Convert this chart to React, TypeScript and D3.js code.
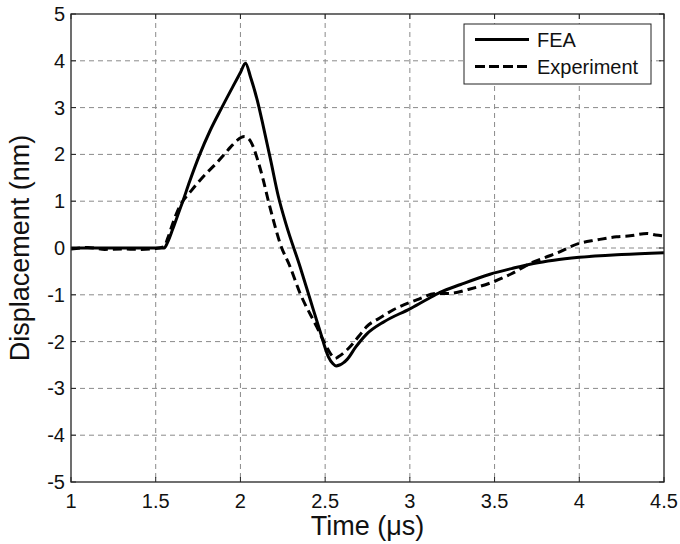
import React from 'react';
import * as d3 from 'd3';

// time in microseconds, displacement in nm
const feaTime = [1.0, 1.2, 1.4, 1.5, 1.55, 1.57, 1.6, 1.63, 1.66, 1.7, 1.76, 1.82, 1.89, 1.96, 2.0, 2.03, 2.06, 2.1, 2.135, 2.18, 2.224, 2.27, 2.352, 2.41, 2.47, 2.52, 2.545, 2.565, 2.585, 2.605, 2.63, 2.68, 2.745, 2.85, 3.0, 3.1, 3.178, 3.3, 3.473, 3.6, 3.73, 3.85, 4.0, 4.25, 4.5];
const feaDisp = [0, 0, 0, 0, 0, 0.12, 0.4, 0.7, 1.0, 1.42, 2.0, 2.5, 3.0, 3.48, 3.75, 3.95, 3.65, 3.15, 2.6, 1.85, 1.1, 0.5, -0.4, -1.08, -1.78, -2.33, -2.47, -2.52, -2.5, -2.46, -2.38, -2.12, -1.84, -1.57, -1.3, -1.1, -0.95, -0.78, -0.56, -0.44, -0.33, -0.26, -0.2, -0.14, -0.1];

const expTime = [1.0, 1.1, 1.2, 1.3, 1.4, 1.5, 1.55, 1.57, 1.6, 1.63, 1.66, 1.7, 1.75, 1.8, 1.85, 1.9, 1.94, 1.98, 2.023, 2.05, 2.076, 2.1, 2.135, 2.165, 2.194, 2.234, 2.293, 2.35, 2.45, 2.5, 2.54, 2.558, 2.58, 2.647, 2.7, 2.745, 2.82, 2.903, 3.04, 3.159, 3.237, 3.35, 3.473, 3.6, 3.71, 3.8, 3.867, 4.0, 4.1, 4.22, 4.3, 4.4, 4.45, 4.5];
const expDisp = [-0.02, 0.01, -0.03, -0.02, -0.03, -0.01, 0.03, 0.2, 0.52, 0.8, 1.0, 1.18, 1.4, 1.6, 1.78, 1.98, 2.15, 2.3, 2.38, 2.33, 2.16, 1.9, 1.45, 1.0, 0.6, 0.1, -0.4, -0.95, -1.68, -2.05, -2.3, -2.36, -2.32, -2.11, -1.88, -1.68, -1.5, -1.32, -1.11, -0.97, -0.97, -0.88, -0.75, -0.55, -0.33, -0.2, -0.11, 0.1, 0.17, 0.24, 0.26, 0.31, 0.28, 0.26];

const xTicks = [1, 1.5, 2, 2.5, 3, 3.5, 4, 4.5];
const yTicks = [-5, -4, -3, -2, -1, 0, 1, 2, 3, 4, 5];

const W = 680;
const H = 544;
const margin = { top: 14, right: 16, bottom: 62, left: 71 };
const FONT = "'Liberation Sans', Arial, sans-serif";

export default function App() {
  const x = d3.scaleLinear().domain([1, 4.5]).range([margin.left, W - margin.right]);
  const y = d3.scaleLinear().domain([-5, 5]).range([H - margin.bottom, margin.top]);

  const line = d3.line<[number, number]>()
    .x(d => x(d[0]))
    .y(d => y(d[1]))
    .curve(d3.curveMonotoneX);

  const fea = feaTime.map((t, i) => [t, feaDisp[i]] as [number, number]);
  const exp = expTime.map((t, i) => [t, expDisp[i]] as [number, number]);

  const x0 = x.range()[0], x1 = x.range()[1];
  const y0 = y.range()[1], y1 = y.range()[0];
  const tick = 5;

  return (
    <svg width={W} height={H} style={{ position: 'absolute', left: 0, top: 0, background: '#fff' }}>
      <rect x={0} y={0} width={W} height={H} fill="#fff" />
      {/* grid */}
      <g stroke="#8a8a8a" strokeWidth={1} strokeDasharray="5,4">
        {xTicks.slice(1, -1).map(t => (
          <line key={'gx' + t} x1={x(t)} x2={x(t)} y1={y0} y2={y1} />
        ))}
        {yTicks.slice(1, -1).map(t => (
          <line key={'gy' + t} x1={x0} x2={x1} y1={y(t)} y2={y(t)} />
        ))}
      </g>

      {/* ticks on all sides */}
      <g stroke="#222" strokeWidth={1}>
        {xTicks.map(t => (
          <g key={'tx' + t}>
            <line x1={x(t)} x2={x(t)} y1={y1} y2={y1 - tick} />
            <line x1={x(t)} x2={x(t)} y1={y0} y2={y0 + tick} />
          </g>
        ))}
        {yTicks.map(t => (
          <g key={'ty' + t}>
            <line x1={x0} x2={x0 + tick} y1={y(t)} y2={y(t)} />
            <line x1={x1} x2={x1 - tick} y1={y(t)} y2={y(t)} />
          </g>
        ))}
      </g>

      {/* data */}
      <path d={line(exp) || ''} fill="none" stroke="#000" strokeWidth={3} strokeDasharray="9,5" />
      <path d={line(fea) || ''} fill="none" stroke="#000" strokeWidth={3} />

      {/* frame */}
      <rect x={x0} y={y0} width={x1 - x0} height={y1 - y0} fill="none" stroke="#222" strokeWidth={1.3} />

      {/* tick labels */}
      <g fontFamily={FONT} fontSize={20} fill="#111">
        {xTicks.map(t => (
          <text key={'lx' + t} x={x(t)} y={y1 + 26} textAnchor="middle">{String(t)}</text>
        ))}
        {yTicks.map(t => (
          <text key={'ly' + t} x={x0 - 6} y={y(t) + 7} textAnchor="end">{String(t)}</text>
        ))}
      </g>

      {/* axis labels */}
      <text x={(x0 + x1) / 2} y={535} textAnchor="middle" fontFamily={FONT} fontSize={27} fill="#111">
        Time (μs)
      </text>
      <text transform={`translate(29,${(y0 + y1) / 2}) rotate(-90)`} textAnchor="middle" fontFamily={FONT} fontSize={27} fill="#111">
        Displacement (nm)
      </text>

      {/* legend */}
      <g>
        <rect x={464} y={24} width={187} height={60} fill="#fff" stroke="#222" strokeWidth={1} />
        <line x1={475} x2={529} y1={39.5} y2={39.5} stroke="#000" strokeWidth={3} />
        <line x1={475} x2={529} y1={66.5} y2={66.5} stroke="#000" strokeWidth={3} strokeDasharray="10,4" />
        <text x={537} y={47} fontFamily={FONT} fontSize={20} fill="#111">FEA</text>
        <text x={537} y={74} fontFamily={FONT} fontSize={20} fill="#111">Experiment</text>
      </g>
    </svg>
  );
}
